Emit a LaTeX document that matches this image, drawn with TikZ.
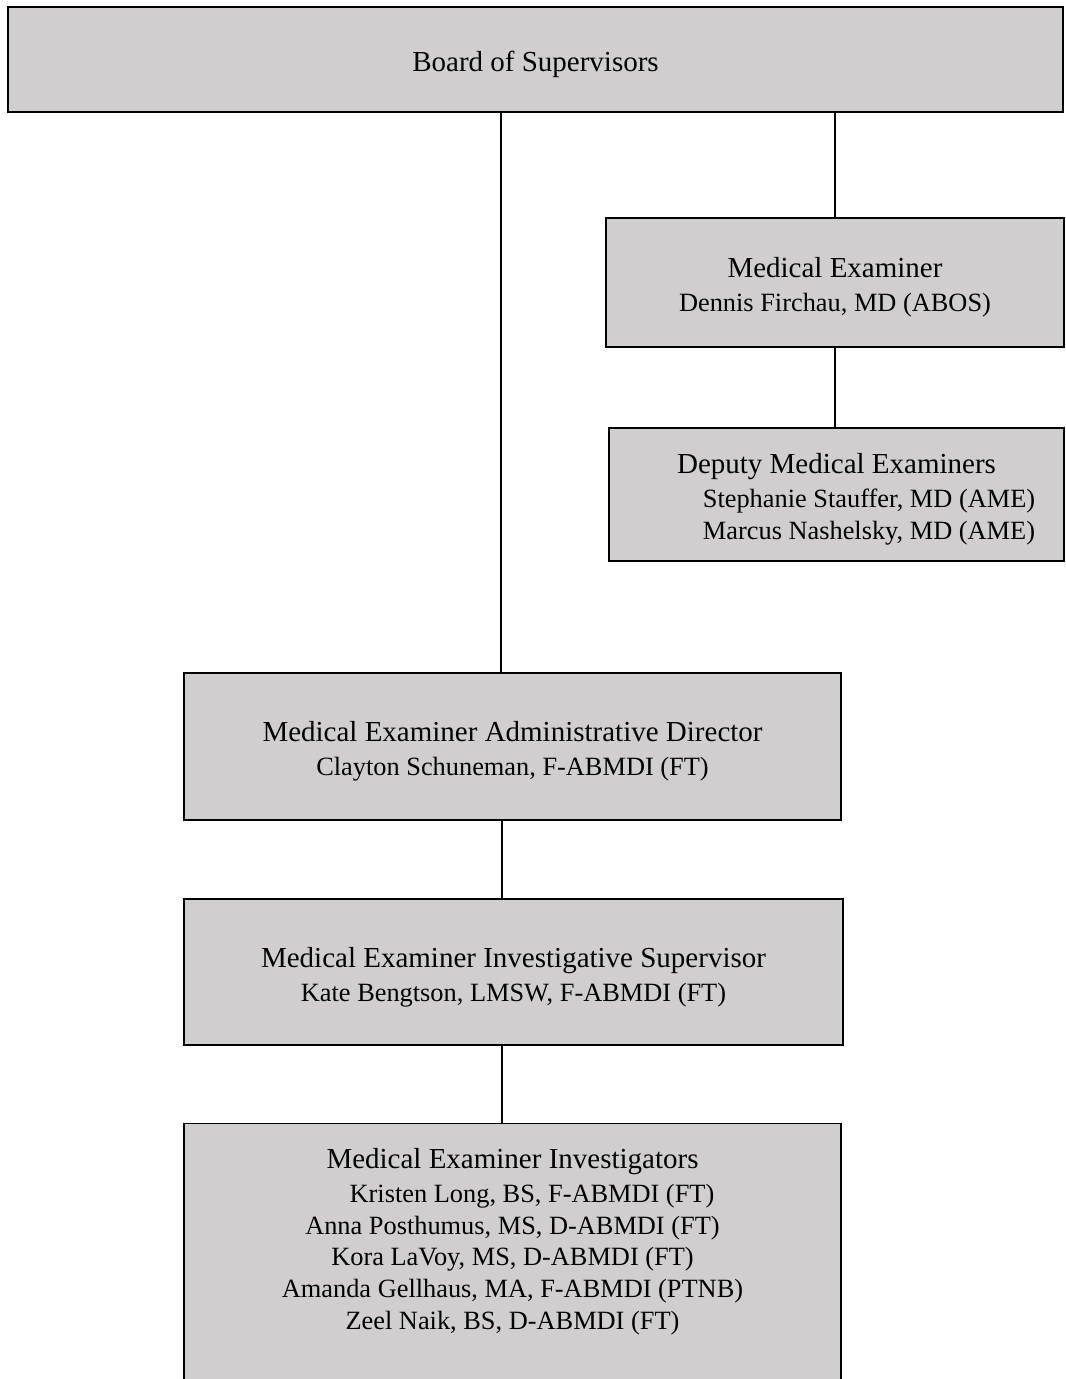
\documentclass[tikz,border=0pt]{standalone}
\usepackage{fontspec}
\setmainfont{Liberation Serif}
\usepackage{tikz}
\usetikzlibrary{shapes}

\definecolor{boxgray}{RGB}{208,206,207}
\newcommand{\headfont}{\fontsize{16.5}{19.3}\selectfont\rule{0pt}{17pt}}
\newcommand{\namefont}{\fontsize{15}{18}\selectfont}

\begin{document}
\begin{tikzpicture}[
  orgbox/.style={shape=rectangle,draw=black,fill=boxgray,align=center,line width=0.8pt,inner sep=0pt,font=\namefont},
  conn/.style={-,draw=black,line width=0.9pt}]
\useasboundingbox (0,0) rectangle (21.3,-27.58);

\node[orgbox,minimum width=21.1cm,minimum height=2.1cm] (0) at (10.71,-1.19) {{\headfont Board of Supervisors}};
\node[orgbox,minimum width=9.16cm,minimum height=2.58cm] (1) at (16.7,-5.65) {{\headfont Medical Examiner}\\[1.3pt]Dennis Firchau, MD (ABOS)};
\node[orgbox,minimum width=9.1cm,minimum height=2.66cm] (2) at (16.73,-9.89) {{\headfont Deputy Medical Examiners}\\[1.3pt]\hspace*{1.3cm}Stephanie Stauffer, MD (AME)\\\hspace*{1.3cm}Marcus Nashelsky, MD (AME)};
\node[orgbox,minimum width=13.14cm,minimum height=2.94cm] (3) at (10.25,-14.93) {{\headfont Medical Examiner Administrative Director}\\[1.3pt]Clayton Schuneman, F-ABMDI (FT)};
\node[orgbox,minimum width=13.18cm,minimum height=2.92cm] (4) at (10.27,-19.44) {{\headfont Medical Examiner Investigative Supervisor}\\[1.3pt]Kate Bengtson, LMSW, F-ABMDI (FT)};
\node[orgbox,minimum width=13.14cm,minimum height=6cm,anchor=north] (5) at (10.25,-22.46) {};
\node[align=center,font=\namefont,inner sep=0pt,anchor=north] (6) at (10.25,-22.77) {{\headfont Medical Examiner Investigators}\\[1.3pt]\hspace*{0.78cm}Kristen Long, BS, F-ABMDI (FT)\\Anna Posthumus, MS, D-ABMDI (FT)\\Kora LaVoy, MS, D-ABMDI (FT)\\Amanda Gellhaus, MA, F-ABMDI (PTNB)\\Zeel Naik, BS, D-ABMDI (FT)};

\coordinate (l) at (10.02,0);
\coordinate (m) at (10.04,0);

\path [conn] (0.south -| l) edge (3.north -| l);
\path [conn] (1.north) edge (1.north |- 0.south);
\path [conn] (1.south) edge (1.south |- 2.north);
\path [conn] (3.south -| m) edge (4.north -| m);
\path [conn] (4.south -| m) edge (5.north -| m);
\end{tikzpicture}
\end{document}
